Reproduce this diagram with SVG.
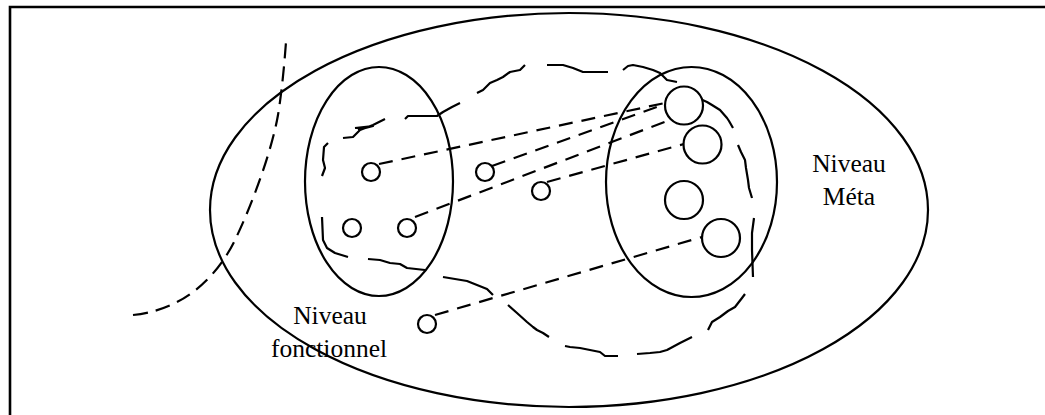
<svg xmlns="http://www.w3.org/2000/svg" width="1045" height="415" viewBox="0 0 1045 415">
<style>
.solid{fill:none;stroke:#000;stroke-width:2.2}
.small{fill:#fff;stroke:#000;stroke-width:2.2}
.dash{fill:none;stroke:#000;stroke-width:2.2;stroke-dasharray:14 9}
.curve{fill:none;stroke:#000;stroke-width:2.2;stroke-dasharray:15 8}
.blob{fill:none;stroke:#000;stroke-width:2.2;stroke-linejoin:round;stroke-linecap:butt}
.lbl{font-family:"Liberation Serif","Times New Roman",serif;font-size:25.5px;fill:#000;text-anchor:middle}
</style>
<rect x="0" y="0" width="1045" height="415" fill="#fff"/>
<path d="M10,415 V7 H1045" fill="none" stroke="#000" stroke-width="2.6"/>
<g id="meta-level">
<ellipse cx="569" cy="210" rx="359" ry="197" class="solid"/>
<text class="lbl" x="849" y="172">Niveau</text>
<text class="lbl" x="849" y="205">Méta</text>
</g>
<g id="functional-domain">
<ellipse cx="379" cy="181.5" rx="74" ry="114.5" class="solid"/>
</g>
<g id="meta-domain">
<ellipse cx="691.5" cy="182" rx="85.5" ry="115" class="solid"/>
</g>
<g id="functional-label">
<text class="lbl" x="330" y="324">Niveau</text>
<text class="lbl" x="329" y="357">fonctionnel</text>
</g>
<path id="boundary-curve" class="curve" d="M133,315 C185,310 218,275 235,240 C252,205 272,150 278,115 C281,97 284,70 286,42"/>
<path id="dashed-blob" class="blob" d="M328,143 L324,147 L323,160 L325,168 L322,176
M322,217 L323,240 L327,248 L335,253 L348,257
M368,259 L380,260 L390,263 L400,264 L407,268 L425,270
M443,277 L455,279 L467,281 L477,285 L487,289 L493,295
M508,305 L517,313 L527,322 L533,327 L537,330 L543,333 L549,337
M565,346 L570,347 L580,348 L590,350 L600,352 L605,356 L618,356
M637,354 L650,353 L660,352 L667,350 L680,343 L692,337
M708,330 L712,322 L720,317 L728,311 L735,307 L742,298 L745,294
M753,277 L752,250 L752,233 L754,218
M752,198 L749,188 L748,180 L746,168 L745,160 L741,152 L738,145
M733,128 L729,121 L727,118 L720,110 L712,105 L707,102 L698,98 L690,95
M677,82 L667,80 L660,73 L653,70 L643,67 L633,65 L628,66 L623,70
M608,72 L583,72 L578,70 L573,68 L563,65 L547,65
M525,65 L520,70 L510,72 L503,77 L497,80 L490,83 L483,90 L477,93
M460,103 L452,107 L443,112 L437,116 L408,116 L405,119
M385,119 L373,125 L360,130 L353,137 L343,138
M355,128 L373,126 L358,130"/>
<g id="func-elements">
<circle id="f1" cx="371" cy="172" r="9" class="small"/>
<circle id="f2" cx="352" cy="228" r="9" class="small"/>
<circle id="f3" cx="407" cy="228" r="9" class="small"/>
<circle id="f4" cx="485" cy="172" r="9" class="small"/>
<circle id="f5" cx="541" cy="191" r="9" class="small"/>
<circle id="f6" cx="427" cy="324" r="9" class="small"/>
</g>
<g id="meta-elements">
<circle id="m1" cx="684" cy="105.5" r="19" class="small"/>
<circle id="m2" cx="702.5" cy="144.5" r="19" class="small"/>
<circle id="m3" cx="684" cy="200" r="19" class="small"/>
<circle id="m4" cx="721" cy="238" r="19" class="small"/>
</g>
<g id="connectors">
<line class="dash" x1="379" y1="164" x2="665" y2="103"/>
<line class="dash" x1="492" y1="166" x2="665" y2="104"/>
<line class="dash" x1="415" y1="217" x2="667" y2="121"/>
<line class="dash" x1="547" y1="182" x2="684" y2="144"/>
<line class="dash" x1="435" y1="315" x2="702" y2="237"/>
</g>
</svg>
